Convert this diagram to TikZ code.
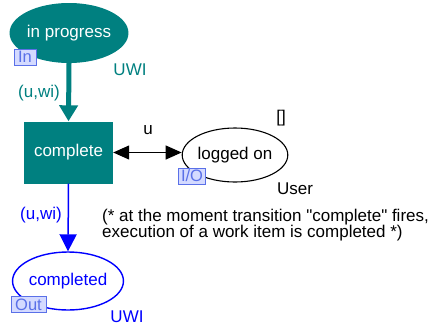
\documentclass[tikz,border=0pt]{standalone}
\usepackage{fontspec}
\setmainfont{Liberation Sans}[Ligatures=TeXOff]
\usetikzlibrary{arrows.meta,shapes.geometric}
\definecolor{cpnteal}{RGB}{0,128,128}
\definecolor{cpnblue}{RGB}{0,0,255}
\definecolor{tagfill}{RGB}{212,218,255}
\definecolor{tagline}{RGB}{90,112,232}
\tikzset{
  lbl/.style={font=\fontsize{17}{16}\selectfont, inner sep=0pt},
  place/.style={ellipse, inner sep=0pt, font=\fontsize{17}{16}\selectfont},
  trans/.style={rectangle, inner sep=0pt, font=\fontsize{17}{16}\selectfont},
  porttag/.style={rectangle, draw=tagline, fill=tagfill, text=tagline, line width=0.8pt,
    inner sep=0pt, minimum height=16pt, font=\fontsize{16.5}{15}\selectfont},
}
\begin{document}
\begin{tikzpicture}[x=1pt, y=-1pt]
\useasboundingbox (0,0) rectangle (433,330);

% places and transition
\node[place, fill=cpnteal, text=white, minimum width=116pt, minimum height=60pt] (inprog) at (69,33) {in progress};
\node[trans, fill=cpnteal, text=white, minimum width=89pt, minimum height=62pt] (complete) at (68.5,152.5) {complete};
\node[place, draw=black, line width=1.1pt, minimum width=104pt, minimum height=54pt] (logged) at (235,155) {logged on};
\node[place, draw=cpnblue, text=cpnblue, line width=1.4pt, minimum width=102pt, minimum height=58pt] (completed) at (68,281) {completed};

% port tags
\node[porttag, minimum width=22pt] (tagin) at (25,57) {In};
\node[porttag, minimum width=27pt] (tagio) at (192,176) {I/O};
\node[porttag, minimum width=35pt] (tagout) at (28.5,304.5) {Out};

% colour sets, initial marking and arc inscriptions
\node[lbl, text=cpnteal] (csin) at (130,70) {UWI};
\node[lbl, text=cpnteal] (insin) at (39,93) {(u,wi)};
\node[lbl] (insu) at (148,130) {u};
\node[lbl] (initm) at (281,118) {[]};
\node[lbl] (cslog) at (295,189) {User};
\node[lbl, text=cpnblue] (insout) at (41,215) {(u,wi)};
\node[lbl, text=cpnblue] (csout) at (127,317) {UWI};

% comment
\node[lbl, anchor=west, align=left] (note) at (102,225.5)
  {(* at the moment transition "complete" fires,\\execution of a work item is completed *)};

% arcs
\draw[cpnteal, line width=5pt, -{Triangle[length=16pt, width=18pt]}] (inprog.south) -- (complete.north);
\draw[cpnblue, line width=1.5pt, -{Triangle[length=17pt, width=17pt]}] (complete.south) -- (completed.north);
\draw[black, line width=1.2pt, {Triangle[length=16pt, width=14pt]}-{Triangle[length=16pt, width=14pt]}]
  (complete.east) -- (complete.east -| logged.west);
\end{tikzpicture}
\end{document}
